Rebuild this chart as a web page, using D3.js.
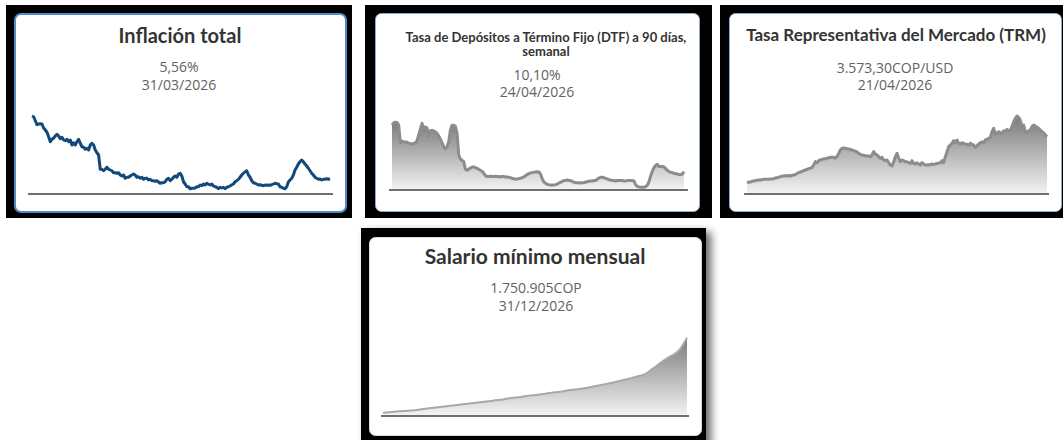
<!DOCTYPE html>
<html>
  <head>
    <meta charset="utf-8">
    <title>Indicadores económicos</title>
    <script src="https://cdn.jsdelivr.net/npm/d3@7"></script>
    <style>
      body { margin: 0; background: #fff; }
      svg { display: block; font-family: "Segoe UI", Lato, sans-serif; }
      .dato { font-family: "Segoe UI", "Open Sans", sans-serif; }
    </style>
  </head>
  <body>
    <svg id="chart" width="1063" height="440"></svg>
    <script>
      // card texts
      const titulos = [
        ["Inflación total"],
        ["Tasa de Depósitos a Término Fijo (DTF) a 90 días,", "semanal"],
        ["Tasa Representativa del Mercado (TRM)"],
        ["Salario mínimo mensual"]
      ];
      const valores = ["5,56%", "10,10%", "3.573,30COP/USD", "1.750.905COP"];
      const fechas = ["31/03/2026", "24/04/2026", "21/04/2026", "31/12/2026"];

      // series
      const inflacion = [
        31.2, 30.9, 29.3, 27.7, 28.0, 28.1, 28.0, 26.4, 25.6, 24.7,
        22.9, 20.9, 21.9, 22.4, 23.2, 23.9, 23.2, 22.1, 22.7, 21.6,
        21.3, 21.9, 20.9, 21.6, 19.6, 20.5, 19.6, 20.9, 21.9, 20.3,
        18.9, 18.7, 17.9, 18.3, 17.6, 19.6, 20.3, 19.6, 17.6, 16.5,
        15.6, 9.9, 9.9, 9.3, 9.9, 10.7, 9.9, 9.6, 9.3, 8.5,
        8.5, 8.3, 8.5, 7.6, 7.2, 7.6, 6.3, 6.7, 6.7, 7.2,
        7.6, 8.0, 7.6, 6.7, 6.9, 6.3, 6.7, 5.9, 6.3, 6.3,
        5.6, 5.9, 5.3, 5.3, 5.1, 5.3, 4.8, 4.3, 4.5, 4.5,
        4.9, 5.9, 6.3, 5.3, 5.9, 6.7, 7.2, 6.7, 8.0, 8.3,
        7.2, 4.9, 4.0, 2.9, 2.9, 2.1, 2.3, 2.3, 2.4, 2.9,
        2.9, 3.6, 3.3, 4.0, 3.6, 4.3, 3.9, 3.6, 4.0, 3.2,
        2.9, 2.7, 2.1, 2.7, 2.4, 2.7, 2.1, 2.7, 2.9, 3.2,
        3.7, 4.0, 4.9, 5.3, 5.9, 6.7, 7.6, 8.3, 8.9, 9.3,
        7.6, 6.7, 5.3, 4.5, 4.3, 4.0, 3.6, 3.7, 3.5, 3.3,
        3.6, 3.5, 3.6, 3.5, 3.7, 4.0, 4.3, 4.1, 4.0, 2.9,
        2.7, 2.3, 2.1, 2.9, 4.8, 5.6, 6.3, 7.6, 9.6, 10.7,
        12.0, 12.9, 13.6, 12.9, 12.0, 11.2, 10.3, 9.3, 8.3, 7.6,
        6.7, 6.3, 5.9, 6.0, 5.6, 5.9, 5.9, 6.1, 5.9, 6.1
      ];
      const dtf = [
        35.9, 37.0, 37.4, 37.2, 35.9, 26.1, 27.0, 26.7, 26.5, 26.3,
        25.9, 25.6, 25.2, 25.8, 25.9, 27.2, 30.4, 33.5, 36.8, 33.5,
        34.8, 34.2, 29.4, 32.8, 32.9, 32.6, 32.0, 31.3, 29.8, 28.0,
        26.1, 23.9, 22.8, 23.9, 26.7, 33.1, 35.7, 35.7, 35.0, 31.3,
        19.3, 17.1, 16.4, 15.6, 11.4, 10.9, 11.6, 12.1, 12.7, 12.7,
        12.3, 12.0, 11.4, 10.9, 10.3, 9.2, 7.9, 7.4, 7.4, 7.6,
        7.4, 7.4, 7.6, 7.4, 7.4, 7.2, 7.4, 7.4, 7.2, 7.2,
        7.0, 6.8, 6.4, 6.3, 5.9, 6.1, 6.4, 6.4, 6.8, 7.2,
        7.9, 8.5, 9.0, 9.4, 9.6, 9.8, 9.9, 10.1, 9.9, 8.8,
        6.3, 4.4, 3.7, 3.1, 2.9, 2.8, 2.8, 2.8, 2.9, 3.3,
        3.9, 4.2, 4.8, 5.2, 5.3, 5.5, 5.3, 5.2, 4.8, 4.4,
        4.0, 4.0, 4.0, 3.9, 4.0, 4.0, 4.4, 4.6, 4.8, 5.0,
        5.0, 5.2, 5.3, 5.9, 6.6, 7.0, 7.0, 6.8, 6.4, 6.1,
        5.7, 5.5, 5.3, 5.2, 5.0, 5.2, 5.2, 5.2, 5.2, 5.0,
        5.0, 5.2, 5.2, 5.2, 5.2, 5.0, 2.9, 2.0, 1.7, 1.5,
        1.5, 1.5, 1.8, 2.6, 4.6, 7.7, 10.3, 12.3, 13.6, 14.2,
        12.9, 12.9, 13.1, 12.7, 11.8, 10.9, 10.1, 9.8, 9.6, 9.2,
        9.0, 8.8, 8.6, 8.5, 8.8, 10.1
      ];
      const trm = [
        770, 728, 749, 790, 811, 832, 853, 874, 874, 894,
        915, 915, 915, 915, 936, 936, 957, 998, 1019, 1040,
        1082, 1102, 1123, 1144, 1123, 1165, 1123, 1165, 1186, 1206,
        1290, 1331, 1373, 1414, 1456, 1498, 1539, 1581, 1602, 1664,
        1810, 2018, 1955, 2080, 2122, 2163, 2184, 2205, 2226, 2267,
        2288, 2288, 2288, 2246, 2330, 2538, 2746, 2850, 2870, 2850,
        2829, 2808, 2787, 2746, 2704, 2683, 2621, 2538, 2475, 2434,
        2413, 2392, 2371, 2371, 2330, 2434, 2642, 2496, 2434, 2330,
        2226, 2288, 2122, 2080, 2122, 1955, 1810, 1747, 2018, 2330,
        2538, 2226, 2018, 2122, 2080, 2018, 2018, 1955, 1914, 2080,
        1914, 1872, 1955, 1872, 1810, 1955, 1872, 1810, 1810, 1830,
        1830, 1872, 1851, 1872, 1914, 1914, 1955, 2080, 1955, 2330,
        2642, 2954, 3058, 3162, 3328, 3203, 3370, 3162, 3120, 3203,
        3162, 3120, 3099, 3058, 3162, 3099, 3058, 2912, 2995, 3120,
        3203, 3266, 3203, 3370, 3411, 3474, 3536, 3890, 4098, 3744,
        3827, 3890, 3786, 3827, 3952, 3890, 4035, 3952, 3994, 4202,
        4514, 4722, 4867, 4784, 4618, 4160, 4306, 3890, 3827, 3952,
        3994, 4202, 4306, 4243, 4160, 4098, 3994, 3890, 3827, 3682,
        3573
      ];
      const salario = [
        74500, 89400, 104300, 119200, 134100, 163900, 186300, 208600, 231000, 253300,
        275700, 298000, 320400, 342700, 365100, 394900, 417300, 447100, 469400, 491800,
        521600, 543900, 573700, 596100, 625900, 663100, 700400, 737600, 782400, 827100,
        879200, 931400, 1065500, 1207100, 1333700, 1452900, 1750905
      ];

      // layout for each card
      const panels = [
        { series: inflacion, kind: "line",
          frame: [6, 5, 346, 213], box: [14, 13, 333, 200], border: "#4d8bc9", borderW: 2,
          cx: 180, titleY: [43], titleSize: 20, textCx: 179, valueY: 72, dateY: 90,
          xr: [32, 330], axisX: [28, 333], yDomain: [0, 32], yRange: [194, 114] },
        { series: dtf, kind: "area",
          frame: [365, 5, 347, 213], box: [375, 13, 325, 199], border: "#8fadcb", borderW: 1,
          cx: 546, titleY: [42, 56], titleSize: 13, textCx: 537, valueY: 80, dateY: 97,
          xr: [392, 684], axisX: [389, 688], yDomain: [0, 40], yRange: [190, 117.5] },
        { series: trm, kind: "area",
          frame: [720, 5, 360, 213], box: [729, 13, 333, 199], border: "#8fadcb", borderW: 1,
          cx: 896, titleY: [41], titleSize: 17, textCx: 895, valueY: 73, dateY: 90,
          xr: [747, 1047], axisX: [744, 1049], yDomain: [0, 5000], yRange: [194, 113.9] },
        { series: salario, kind: "area", shadow: true, smooth: true,
          frame: [361, 228, 345, 220], box: [369, 237, 333, 199], border: "#d4dde8", borderW: 1,
          cx: 535, titleY: [264], titleSize: 21, textCx: 536, valueY: 293, dateY: 311,
          xr: [383, 687], axisX: [381, 689], yDomain: [0, 1800000], yRange: [416, 335.5] }
      ];

      const svg = d3.select("#chart");
      const defs = svg.append("defs");
      const grad = defs.append("linearGradient")
        .attr("id", "fade")
        .attr("x1", 0).attr("y1", 0).attr("x2", 0).attr("y2", 1);
      grad.append("stop").attr("offset", "0%").attr("stop-color", "#7b7b7b");
      grad.append("stop").attr("offset", "100%").attr("stop-color", "#f4f4f4");
      defs.append("filter")
        .attr("id", "shadow")
        .attr("x", "-10%").attr("y", "-10%").attr("width", "130%").attr("height", "130%")
        .append("feDropShadow")
          .attr("dx", 5).attr("dy", 4)
          .attr("stdDeviation", 4)
          .attr("flood-color", "#000")
          .attr("flood-opacity", 0.6);

      panels.forEach(function(p, i) {
        const g = svg.append("g");
        // black frame and white card
        g.append("rect")
          .attr("x", p.frame[0]).attr("y", p.frame[1])
          .attr("width", p.frame[2]).attr("height", p.frame[3])
          .attr("fill", "#000")
          .attr("filter", p.shadow ? "url(#shadow)" : null);
        g.append("rect")
          .attr("x", p.box[0] + p.borderW / 2).attr("y", p.box[1] + p.borderW / 2)
          .attr("width", p.box[2] - p.borderW).attr("height", p.box[3] - p.borderW)
          .attr("rx", 6)
          .attr("fill", "#fff")
          .attr("stroke", p.border)
          .attr("stroke-width", p.borderW);

        // texts
        titulos[i].forEach(function(t, k) {
          g.append("text")
            .attr("x", p.cx).attr("y", p.titleY[k])
            .attr("text-anchor", "middle")
            .attr("font-size", p.titleSize)
            .attr("font-weight", "bold")
            .attr("fill", "#333")
            .text(t);
        });
        g.append("text")
          .attr("class", "dato")
          .attr("x", p.textCx).attr("y", p.valueY)
          .attr("text-anchor", "middle")
          .attr("font-size", 14)
          .attr("fill", "#626262")
          .text(valores[i]);
        g.append("text")
          .attr("class", "dato")
          .attr("x", p.textCx).attr("y", p.dateY)
          .attr("text-anchor", "middle")
          .attr("font-size", 14)
          .attr("fill", "#626262")
          .text(fechas[i]);

        // sparkline
        const x = d3.scaleLinear().domain([0, p.series.length - 1]).range(p.xr);
        const y = d3.scaleLinear().domain(p.yDomain).range(p.yRange);
        const curve = p.smooth ? d3.curveMonotoneX : d3.curveLinear;
        if (p.kind == "area") {
          g.append("path")
            .datum(p.series)
            .attr("fill", "url(#fade)")
            .attr("d", d3.area()
              .x(function(d, j) { return x(j); })
              .y0(y(0))
              .y1(function(d) { return y(d); })
              .curve(curve));
        }
        g.append("path")
          .datum(p.series)
          .attr("fill", "none")
          .attr("stroke", p.kind == "line" ? "#11497a" : (p.smooth ? "#a8a8a8" : "#8c8c8c"))
          .attr("stroke-width", p.kind == "line" ? 3 : (p.smooth ? 2 : 3))
          .attr("stroke-linejoin", "round")
          .attr("d", d3.line()
            .x(function(d, j) { return x(j); })
            .y(function(d) { return y(d); })
            .curve(curve));
        // base line
        g.append("line")
          .attr("x1", p.axisX[0]).attr("x2", p.axisX[1])
          .attr("y1", y(0)).attr("y2", y(0))
          .attr("stroke", "#6f6f6f")
          .attr("stroke-width", 2);
      });
    </script>
  </body>
</html>
